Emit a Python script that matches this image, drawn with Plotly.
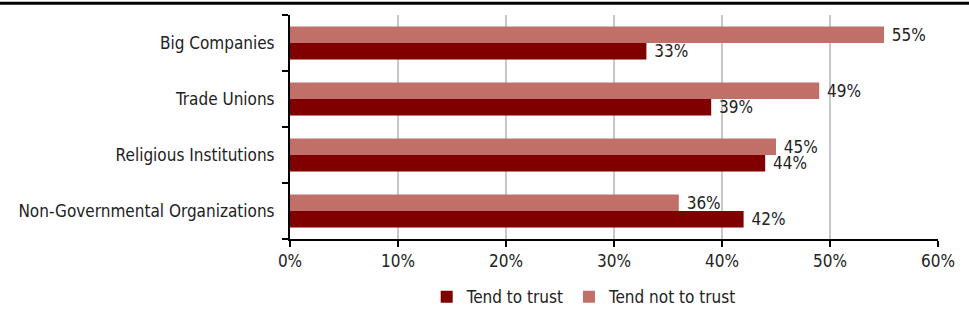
import plotly.graph_objects as go

# categories listed bottom-to-top (plotly draws the first category at the bottom)
categories = [
    "Non-Governmental Organizations",
    "Religious Institutions",
    "Trade Unions",
    "Big Companies",
]
tend_to_trust = [42, 44, 39, 33]
tend_not_to_trust = [36, 45, 49, 55]
x_ticks = [0, 10, 20, 30, 40, 50, 60]

DARK = "#800000"
LIGHT = "#C07068"
FONT = "DejaVu Sans Condensed, Liberation Sans Narrow, Arial Narrow, sans-serif"
TXT = "#222222"
FS = 17

fig = go.Figure()
fig.add_trace(go.Bar(
    y=categories, x=tend_to_trust, orientation="h", name="Tend to trust",
    marker=dict(color=DARK, line=dict(width=0)),
    text=[f" {v}%" for v in tend_to_trust], textposition="outside",
    constraintext="none", textfont=dict(size=FS, color=TXT), cliponaxis=False,
))
fig.add_trace(go.Bar(
    y=categories, x=tend_not_to_trust, orientation="h", name="Tend not to trust",
    marker=dict(color=LIGHT, line=dict(width=0)),
    text=[f" {v}%" for v in tend_not_to_trust], textposition="outside",
    constraintext="none", textfont=dict(size=FS, color=TXT), cliponaxis=False,
))

# thick rule across the top of the page
fig.add_shape(type="line", xref="paper", yref="paper",
              x0=-0.46, x1=1.06, y0=1.052, y1=1.052,
              line=dict(color="black", width=3))

fig.update_layout(
    width=969, height=326,
    paper_bgcolor="white", plot_bgcolor="white",
    font=dict(family=FONT, size=FS, color=TXT),
    barmode="group", bargap=0.41, bargroupgap=0,
    margin=dict(l=290, r=31, t=15, b=87, autoexpand=False),
    showlegend=True,
    legend=dict(orientation="h", x=0.454, xanchor="center", y=-0.26, yanchor="middle",
                font=dict(size=FS, color=TXT), itemwidth=30,
                itemsizing="constant", tracegroupgap=0),
)
fig.update_xaxes(
    range=[0, 60], tickvals=x_ticks, ticktext=[f"{v}%" for v in x_ticks],
    showgrid=True, gridcolor="#C8C8C8", gridwidth=2,
    showline=True, linecolor="black", linewidth=2,
    ticks="outside", ticklen=6, tickwidth=2, tickcolor="black",
    zeroline=False, automargin=False,
)
fig.update_yaxes(
    showline=True, linecolor="black", linewidth=2,
    ticks="outside", ticklen=6, tickwidth=2, tickcolor="black",
    tickson="boundaries", showgrid=False, ticklabelstandoff=10, automargin=False,
)

# drop the browser's default page margin so the figure sits at the top-left corner
fig.write_html("out.html", config={"displayModeBar": False},
               post_script="document.body.style.margin='0';")
